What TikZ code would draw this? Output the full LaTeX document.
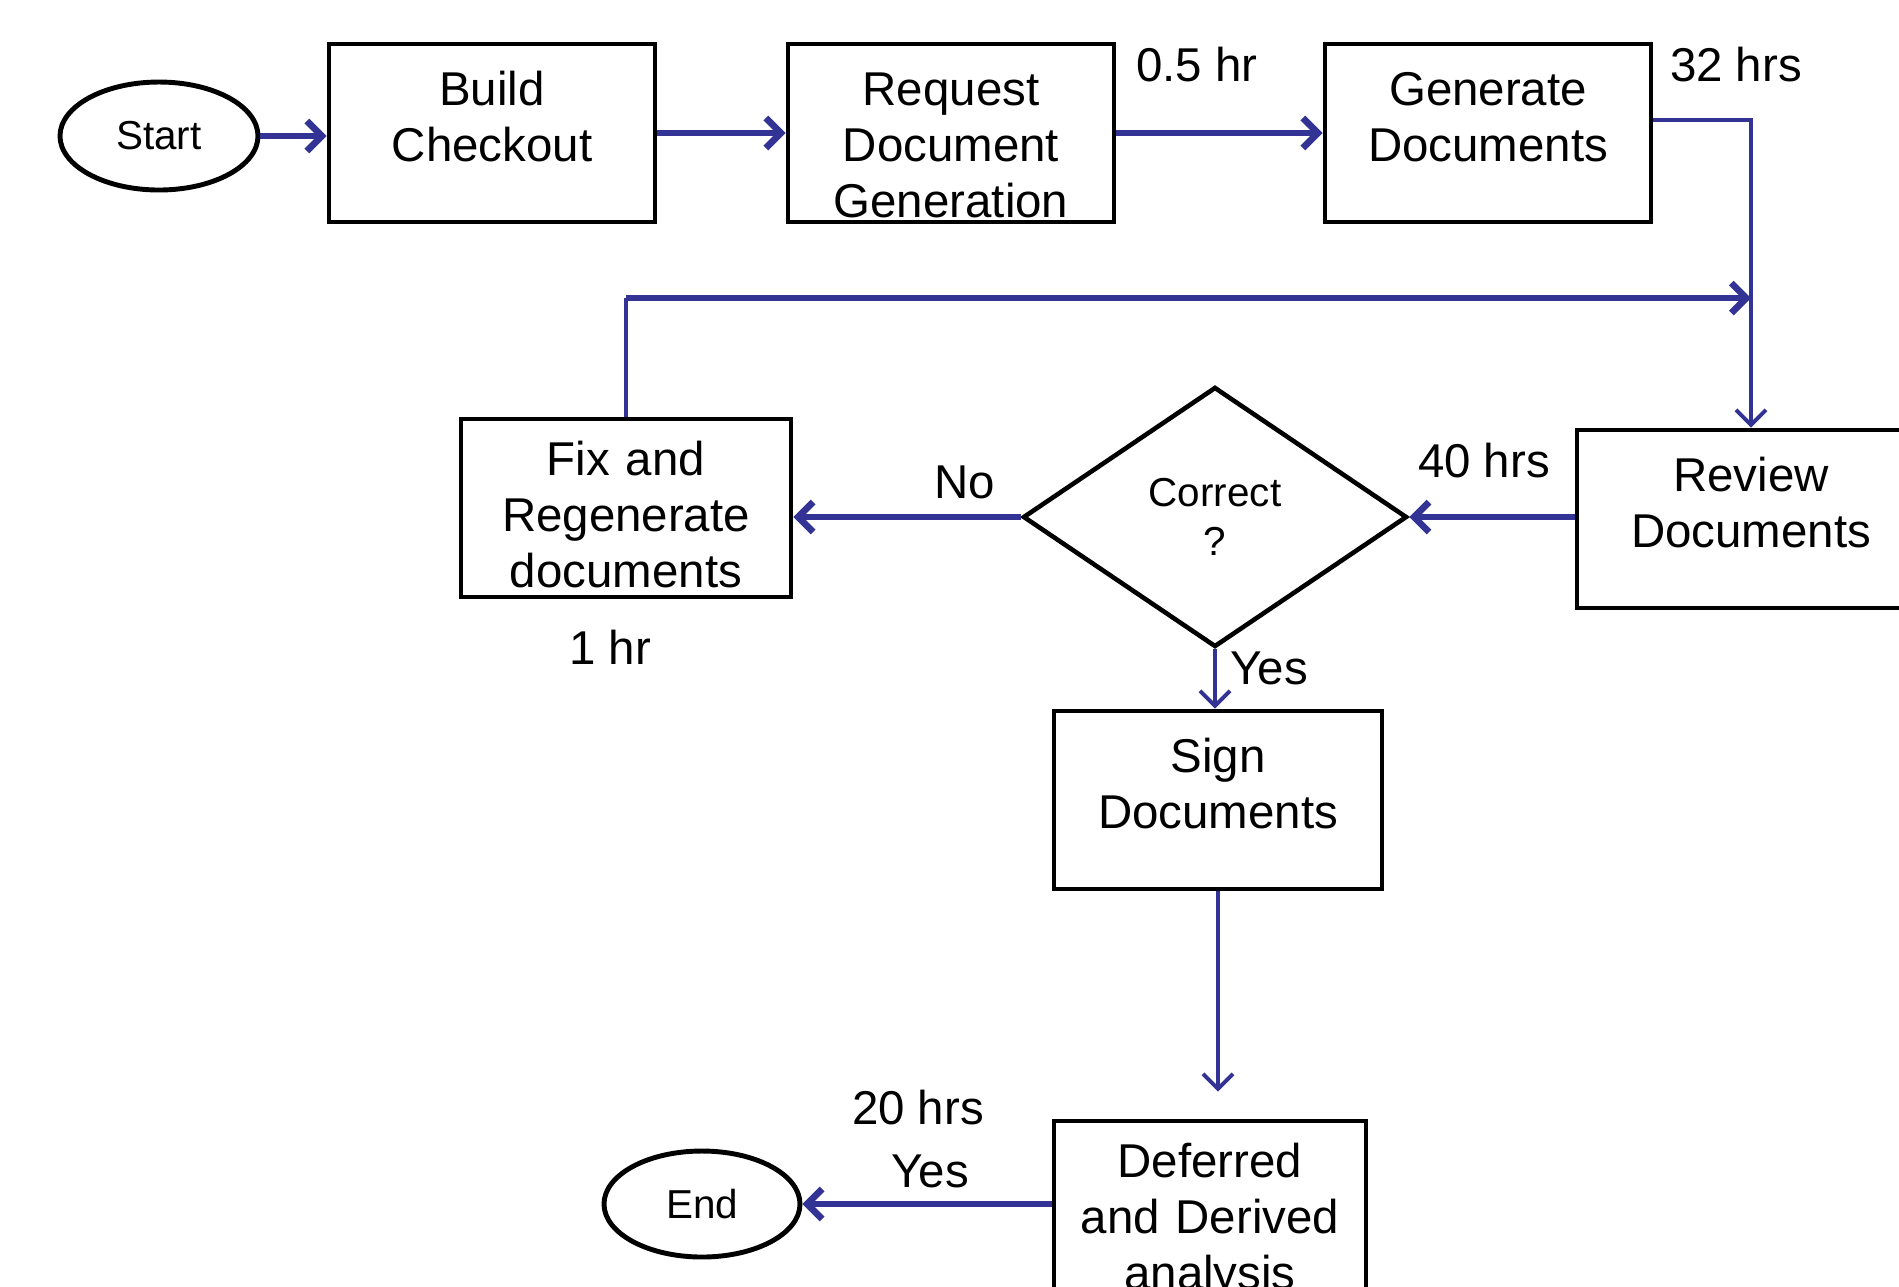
\documentclass[tikz,border=0pt]{standalone}
\usepackage{fontspec}
\setmainfont{Liberation Sans}
\usetikzlibrary{arrows.meta,shapes.geometric}
\definecolor{flowblue}{RGB}{51,51,150}

\begin{document}
\begin{tikzpicture}[
     >={Straight Barb[length=1.5mm,width=3mm]},
     procbox/.style={draw,line width=1.4pt,inner xsep=0pt,inner ysep=0pt,text width=3.1cm,align=center,
       minimum width=3.26cm,text height=0.61cm,text depth=1.17cm,font=\fontsize{13.5}{16}\selectfont},
     terminal/.style={draw,ellipse,line width=1.4pt,inner sep=0pt,minimum width=1.98cm,minimum height=1.08cm,
       font=\fontsize{11.5}{14}\selectfont},
     decision/.style={draw,diamond,line width=1.3pt,inner sep=0pt,minimum width=3.84cm,minimum height=2.6cm,
       align=center,font=\fontsize{11.5}{14}\selectfont},
     timelabel/.style={inner sep=0pt,font=\fontsize{13.5}{16}\selectfont},
     flow/.style={draw=flowblue,line width=1.9pt,->},
     thinflow/.style={draw=flowblue,line width=1.1pt}]
    \useasboundingbox (0,0) rectangle (18.99,-12.86);
    % top row
    \node[terminal] (start)    at (1.59,-1.36)  {Start};
    \node[procbox]  (build)    at (4.92,-1.33)  {Build\\Checkout};
    \node[procbox]  (request)  at (9.51,-1.33)  {Request\\Document\\Generation};
    \node[procbox]  (generate) at (14.88,-1.33) {Generate\\Documents};
    % middle row
    \node[procbox,minimum width=3.48cm] (review) at (17.51,-5.19) {Review\\Documents};
    \node[decision] (correct)  at (12.15,-5.17) {Correct\\?};
    \node[procbox,minimum width=3.30cm,text height=0.56cm,text depth=1.22cm] (fix) at (6.26,-5.08) {Fix and\\Regenerate\\documents};
    % bottom
    \node[procbox,minimum width=3.28cm] (sign) at (12.18,-8.00) {Sign\\Documents};
    \node[procbox,minimum width=3.12cm,text height=0.56cm,text depth=1.22cm] (deferred) at (12.10,-12.10) {Deferred\\and Derived\\analysis};
    \node[terminal,minimum width=1.96cm,minimum height=1.06cm] (end) at (7.02,-12.04) {End};
    \coordinate (merge) at (17.51,-2.98);
    % connectors
    \draw[flow] (start.east) -- (start.east -| build.west);
    \draw[flow] (build) -- (request);
    \draw[flow] (request) -- (generate);
    \draw[thinflow,->] ([yshift=1.3mm]generate.east) -| (review.north);
    \draw[thinflow] (fix.north) -- (fix.north |- merge);
    \draw[flow] (fix.north |- merge) -- (merge);
    \draw[flow] (correct.east -| review.west) -- (correct.east);
    \draw[flow] (correct.west) -- (correct.west -| fix.east);
    \draw[thinflow,->] (correct.south) -- (correct.south |- sign.north);
    \draw[thinflow,->,shorten >=2.7mm] (sign.south) -- (sign.south |- deferred.north);
    \draw[flow] (end.east -| deferred.west) -- (end.east);
    % times and answers
    \node[timelabel] (t1) at (11.97,-0.65) {0.5 hr};
    \node[timelabel] (t2) at (17.36,-0.65) {32 hrs};
    \node[timelabel] (t3) at (14.84,-4.61) {40 hrs};
    \node[timelabel] (no) at (9.65,-4.82)  {No};
    \node[timelabel] (t4) at (6.10,-6.47)  {1 hr};
    \node[timelabel] (yes1) at (12.69,-6.68) {Yes};
    \node[timelabel] (t5) at (9.18,-11.08) {20 hrs};
    \node[timelabel] (yes2) at (9.30,-11.71) {Yes};
  \end{tikzpicture}
\end{document}
